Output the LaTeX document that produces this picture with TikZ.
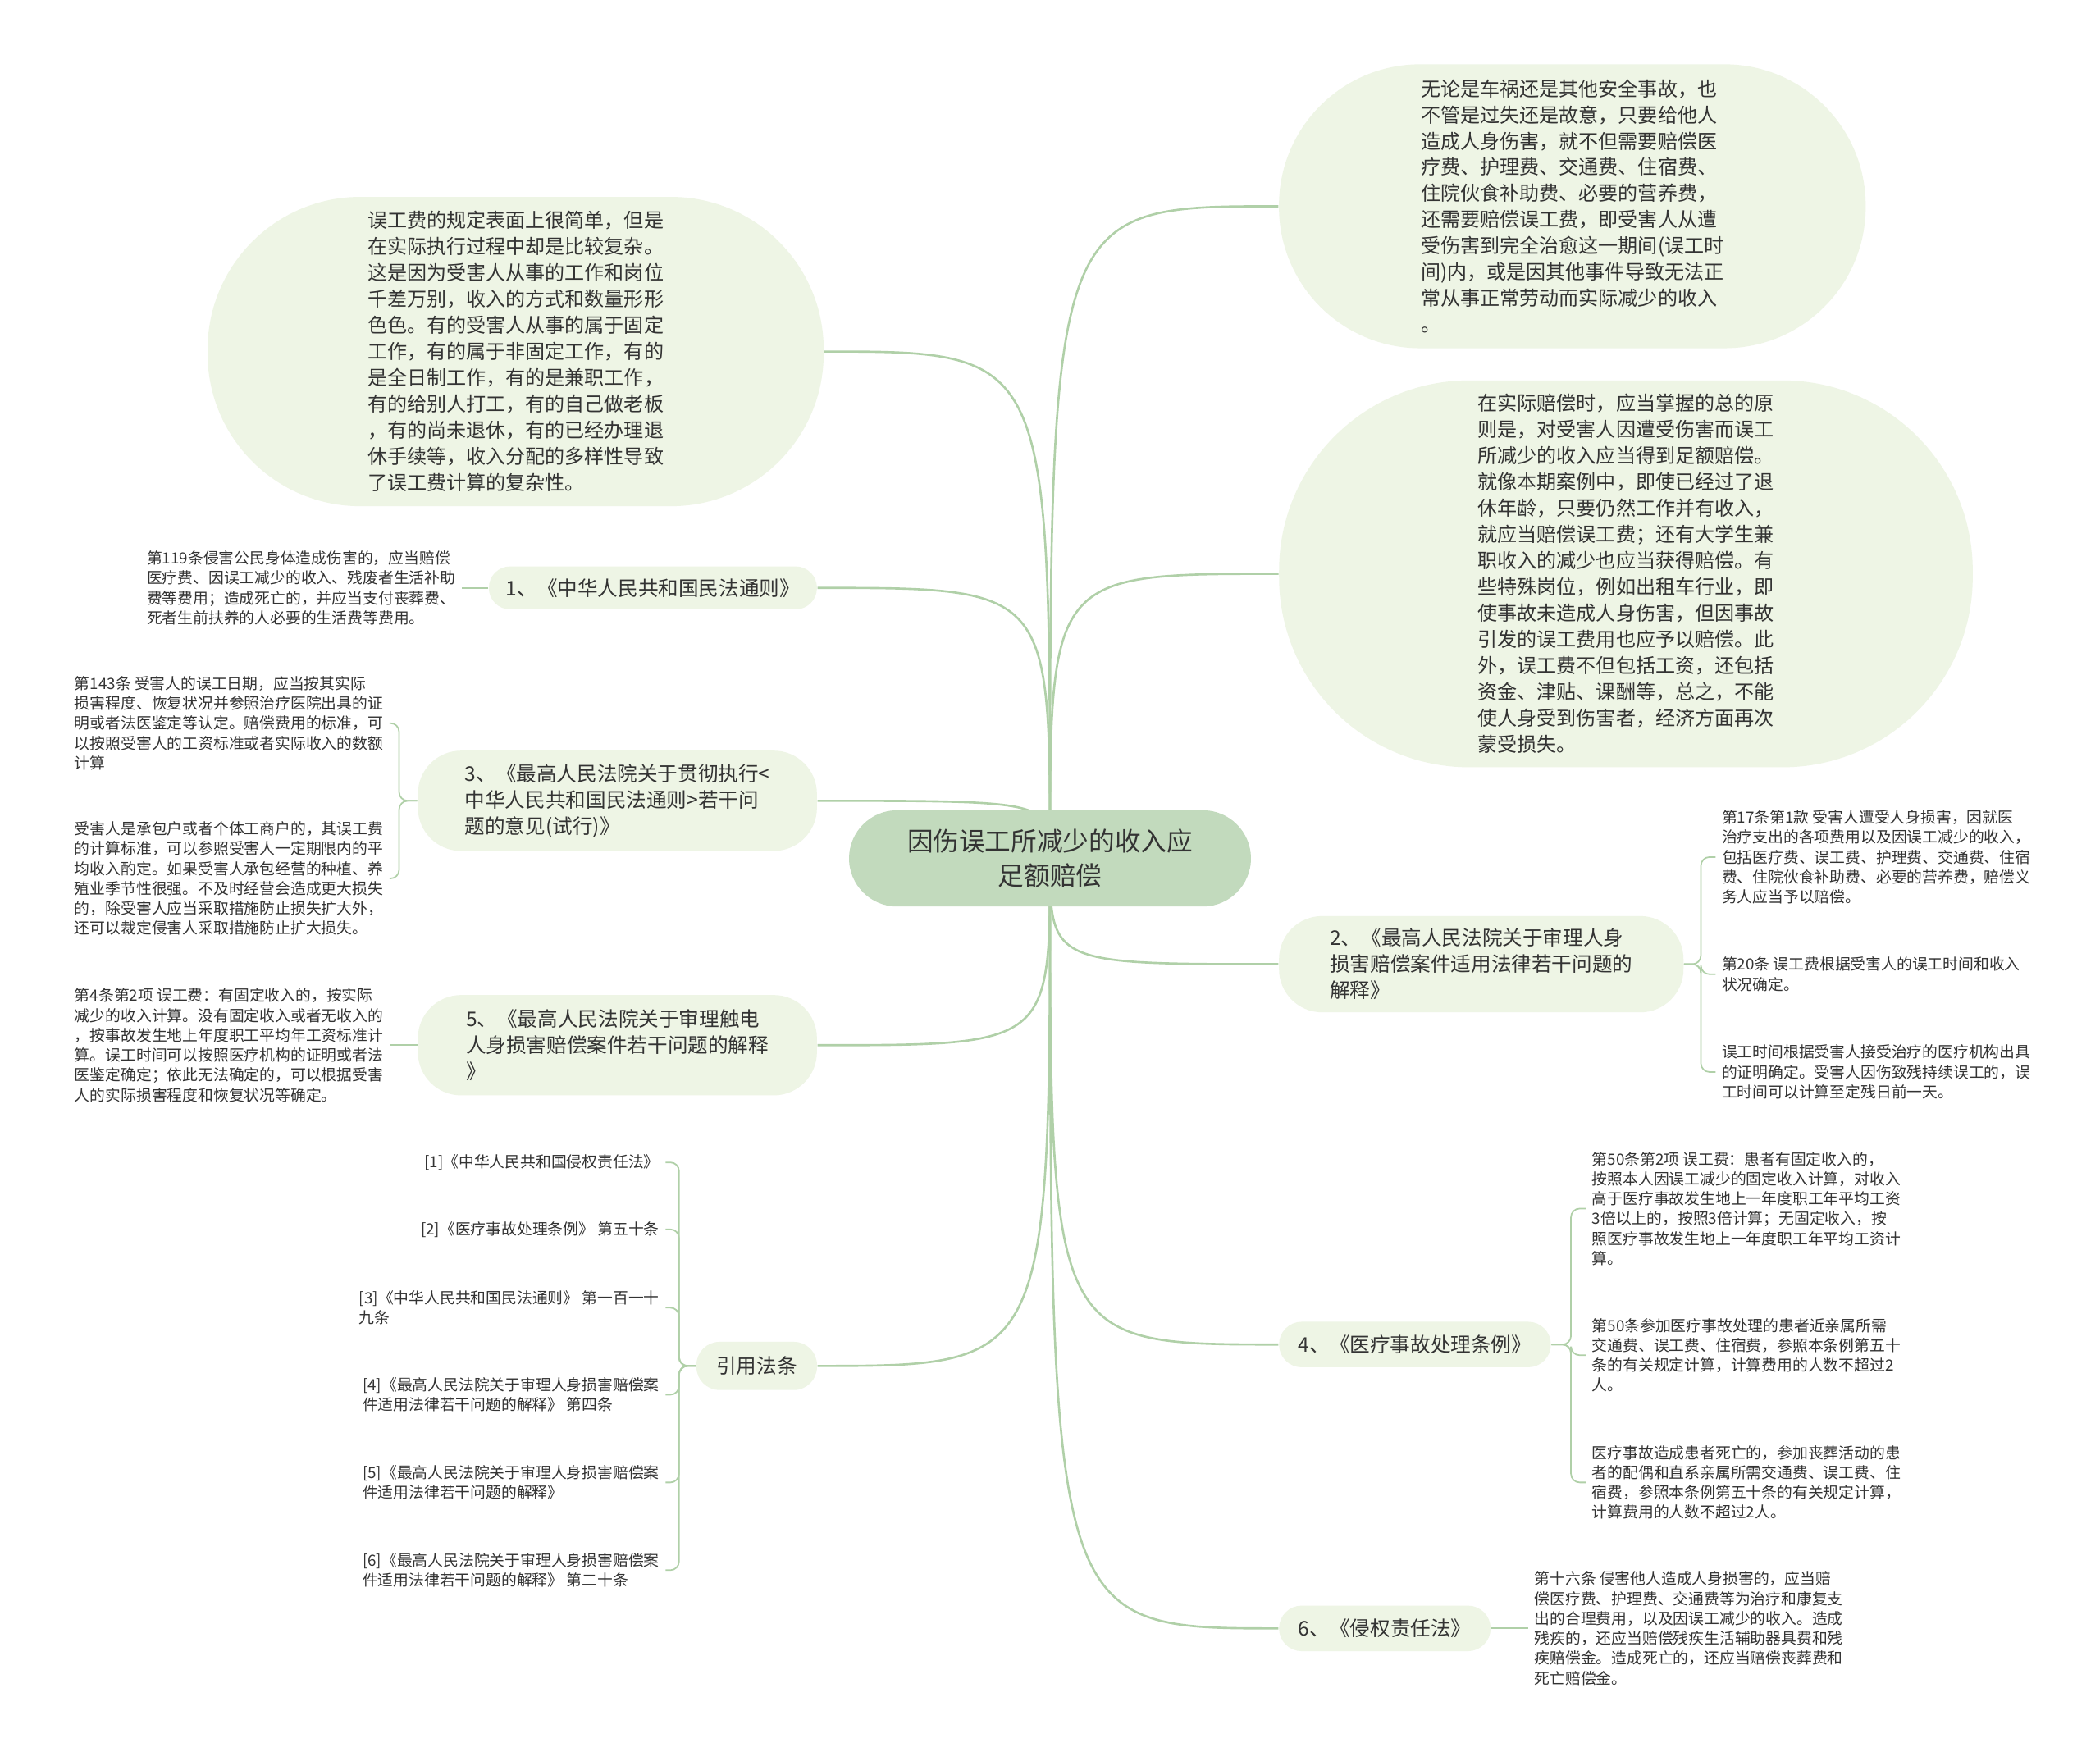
\documentclass[tikz,border=0pt]{standalone}
\usepackage{fontspec}
\setmainfont{Noto Sans CJK SC}
\usepackage{xcolor}
\usepackage{tikz}
\usetikzlibrary{backgrounds}

\definecolor{rootgreen}{RGB}{194,218,189}
\definecolor{topicgreen}{RGB}{238,245,229}
\definecolor{linegreen}{RGB}{176,208,168}
\definecolor{inkgray}{RGB}{51,51,51}

\begin{document}
\begin{tikzpicture}[
        x=0.0163265cm, y=-0.0163265cm,
        every node/.style={text=inkgray},
        root/.style={fill=rootgreen, rounded corners=16.7pt, minimum width=139.4pt, minimum height=33.4pt, align=center, font=\fontsize{9}{12}\selectfont},
        topic/.style={fill=topicgreen, align=left, inner sep=0pt, font=\fontsize{7}{9.1}\selectfont},
        bubble/.style={fill=topicgreen, align=left, inner sep=0pt, font=\fontsize{6.85}{9.1}\selectfont},
        leaf/.style={align=left, inner sep=2pt, font=\fontsize{5.35}{6.9}\selectfont},
        branch/.style={linegreen, line width=0.75pt},
        twig/.style={linegreen, line width=0.5pt, rounded corners=3pt}
    ]
    \useasboundingbox (0,0) rectangle (1568,1315);

    % --- RACINE ---
    \node[root] (root) at (784,641) {因伤误工所减少的收入应\\足额赔偿};

    % --- BULLES (texte long) ---
    \node[bubble, minimum width=213.7pt, minimum height=107.3pt, rounded corners=53pt] (tl) at (385,262.5) {误工费的规定表面上很简单，但是\\在实际执行过程中却是比较复杂。\\这是因为受害人从事的工作和岗位\\千差万别，收入的方式和数量形形\\色色。有的受害人从事的属于固定\\工作，有的属于非固定工作，有的\\是全日制工作，有的是兼职工作，\\有的给别人打工，有的自己做老板\\，有的尚未退休，有的已经办理退\\休手续等，收入分配的多样性导致\\了误工费计算的复杂性。};
    \node[bubble, minimum width=203.5pt, minimum height=98.5pt, rounded corners=49pt] (r1) at (1174,154) {无论是车祸还是其他安全事故，也\\不管是过失还是故意，只要给他人\\造成人身伤害，就不但需要赔偿医\\疗费、护理费、交通费、住宿费、\\住院伙食补助费、必要的营养费，\\还需要赔偿误工费，即受害人从遭\\受伤害到完全治愈这一期间(误工时\\间)内，或是因其他事件导致无法正\\常从事正常劳动而实际减少的收入\\。};
    \node[bubble, minimum width=240.6pt, minimum height=134.2pt, rounded corners=66pt] (r2) at (1214,428.5) {在实际赔偿时，应当掌握的总的原\\则是，对受害人因遭受伤害而误工\\所减少的收入应当得到足额赔偿。\\就像本期案例中，即使已经过了退\\休年龄，只要仍然工作并有收入，\\就应当赔偿误工费；还有大学生兼\\职收入的减少也应当获得赔偿。有\\些特殊岗位，例如出租车行业，即\\使事故未造成人身伤害，但因事故\\引发的误工费用也应予以赔偿。此\\外，误工费不但包括工资，还包括\\资金、津贴、课酬等，总之，不能\\使人身受到伤害者，经济方面再次\\蒙受损失。};

    % --- BRANCHES PRINCIPALES ---
    \node[topic, minimum width=113.8pt, minimum height=14.9pt, rounded corners=7.4pt] (t1) at (487.5,439) {1、《中华人民共和国民法通则》};
    \node[topic, minimum width=138.4pt, minimum height=34.8pt, rounded corners=15pt] (t3) at (461,598) {3、《最高人民法院关于贯彻执行<\\中华人民共和国民法通则>若干问\\题的意见(试行)》};
    \node[topic, minimum width=138.4pt, minimum height=34.8pt, rounded corners=15pt] (t5) at (461,780.5) {5、《最高人民法院关于审理触电\\人身损害赔偿案件若干问题的解释\\》};
    \node[topic, minimum width=41.8pt, minimum height=16.7pt, rounded corners=8pt, align=center] (cite) at (565,1020) {引用法条};
    \node[topic, minimum width=140.3pt, minimum height=33.4pt, rounded corners=15pt] (t2) at (1106,720) {2、《最高人民法院关于审理人身\\损害赔偿案件适用法律若干问题的\\解释》};
    \node[topic, minimum width=94.3pt, minimum height=15.8pt, rounded corners=7.9pt] (t4) at (1056.5,1004) {4、《医疗事故处理条例》};
    \node[topic, minimum width=73.4pt, minimum height=15.8pt, rounded corners=7.9pt] (t6) at (1034,1216) {6、《侵权责任法》};

    % --- FEUILLES (gauche) ---
    \node[leaf, anchor=west] (l1) at (105,439) {第119条侵害公民身体造成伤害的，应当赔偿\\医疗费、因误工减少的收入、残废者生活补助\\费等费用；造成死亡的，并应当支付丧葬费、\\死者生前扶养的人必要的生活费等费用。};
    \node[leaf, anchor=west] (l3a) at (51,540) {第143条 受害人的误工日期，应当按其实际\\损害程度、恢复状况并参照治疗医院出具的证\\明或者法医鉴定等认定。赔偿费用的标准，可\\以按照受害人的工资标准或者实际收入的数额\\计算};
    \node[leaf, anchor=west] (l3b) at (51,656) {受害人是承包户或者个体工商户的，其误工费\\的计算标准，可以参照受害人一定期限内的平\\均收入酌定。如果受害人承包经营的种植、养\\殖业季节性很强。不及时经营会造成更大损失\\的，除受害人应当采取措施防止损失扩大外，\\还可以裁定侵害人采取措施防止扩大损失。};
    \node[leaf, anchor=west] (l5) at (51,780.5) {第4条第2项 误工费：有固定收入的，按实际\\减少的收入计算。没有固定收入或者无收入的\\，按事故发生地上年度职工平均年工资标准计\\算。误工时间可以按照医疗机构的证明或者法\\医鉴定确定；依此无法确定的，可以根据受害\\人的实际损害程度和恢复状况等确定。};

    % --- REFERENCES ---
    \node[leaf, anchor=east] (c1) at (497,868) {[1]《中华人民共和国侵权责任法》};
    \node[leaf, anchor=east] (c2) at (497,918) {[2]《医疗事故处理条例》 第五十条};
    \node[leaf, anchor=east] (c3) at (497,976.5) {[3]《中华人民共和国民法通则》 第一百一十\\九条};
    \node[leaf, anchor=east] (c4) at (497,1041.5) {[4]《最高人民法院关于审理人身损害赔偿案\\件适用法律若干问题的解释》 第四条};
    \node[leaf, anchor=east] (c5) at (497,1107) {[5]《最高人民法院关于审理人身损害赔偿案\\件适用法律若干问题的解释》};
    \node[leaf, anchor=east] (c6) at (497,1172.5) {[6]《最高人民法院关于审理人身损害赔偿案\\件适用法律若干问题的解释》 第二十条};

    % --- FEUILLES (droite) ---
    \node[leaf, anchor=west] (l2a) at (1281,640) {第17条第1款 受害人遭受人身损害，因就医\\治疗支出的各项费用以及因误工减少的收入，\\包括医疗费、误工费、护理费、交通费、住宿\\费、住院伙食补助费、必要的营养费，赔偿义\\务人应当予以赔偿。};
    \node[leaf, anchor=west] (l2b) at (1281,727.5) {第20条 误工费根据受害人的误工时间和收入\\状况确定。};
    \node[leaf, anchor=west] (l2c) at (1281,800.5) {误工时间根据受害人接受治疗的医疗机构出具\\的证明确定。受害人因伤致残持续误工的，误\\工时间可以计算至定残日前一天。};
    \node[leaf, anchor=west] (l4a) at (1184,902.5) {第50条第2项 误工费：患者有固定收入的，\\按照本人因误工减少的固定收入计算，对收入\\高于医疗事故发生地上一年度职工年平均工资\\3倍以上的，按照3倍计算；无固定收入，按\\照医疗事故发生地上一年度职工年平均工资计\\算。};
    \node[leaf, anchor=west] (l4b) at (1184,1012) {第50条参加医疗事故处理的患者近亲属所需\\交通费、误工费、住宿费，参照本条例第五十\\条的有关规定计算，计算费用的人数不超过2\\人。};
    \node[leaf, anchor=west] (l4c) at (1184,1107) {医疗事故造成患者死亡的，参加丧葬活动的患\\者的配偶和直系亲属所需交通费、误工费、住\\宿费，参照本条例第五十条的有关规定计算，\\计算费用的人数不超过2人。};
    \node[leaf, anchor=west] (l6) at (1141,1216) {第十六条 侵害他人造成人身损害的，应当赔\\偿医疗费、护理费、交通费等为治疗和康复支\\出的合理费用，以及因误工减少的收入。造成\\残疾的，还应当赔偿残疾生活辅助器具费和残\\疾赔偿金。造成死亡的，还应当赔偿丧葬费和\\死亡赔偿金。};

    % --- CROCHETS ---
    \coordinate (k3) at (298,0);
    \coordinate (kc) at (507,0);
    \coordinate (k2) at (1270,0);
    \coordinate (k4) at (1173,0);

    \draw[twig] (t1.west) -- (l1.east);
    \draw[twig] (t5.west) -- (l5.east);
    \draw[twig] (t6.east) -- (l6.west);
    \foreach \l in {l3a,l3b}
        \draw[twig] (t3.west) -- (t3.west -| k3) -- (k3 |- \l.east) -- (\l.east);
    \foreach \l in {c1,c2,c3,c4,c5,c6}
        \draw[twig] (cite.west) -- (cite.west -| kc) -- (kc |- \l.east) -- (\l.east);
    \foreach \l in {l2a,l2b,l2c}
        \draw[twig] (t2.east) -- (t2.east -| k2) -- (k2 |- \l.west) -- (\l.west);
    \foreach \l in {l4a,l4b,l4c}
        \draw[twig] (t4.east) -- (t4.east -| k4) -- (k4 |- \l.west) -- (\l.west);

    % --- CONNECTEURS (sous les noeuds) ---
    \begin{scope}[on background layer]
        \fill[white] (0,0) rectangle (1568,1315);
        \foreach \n/\a in {tl/east, t1/east, t3/east, t5/east, cite/east, r1/west, r2/west, t2/west, t4/west, t6/west}
            \draw[branch] (root.center) .. controls (root.center |- \n.\a) .. (\n.\a);
    \end{scope}

\end{tikzpicture}
\end{document}
